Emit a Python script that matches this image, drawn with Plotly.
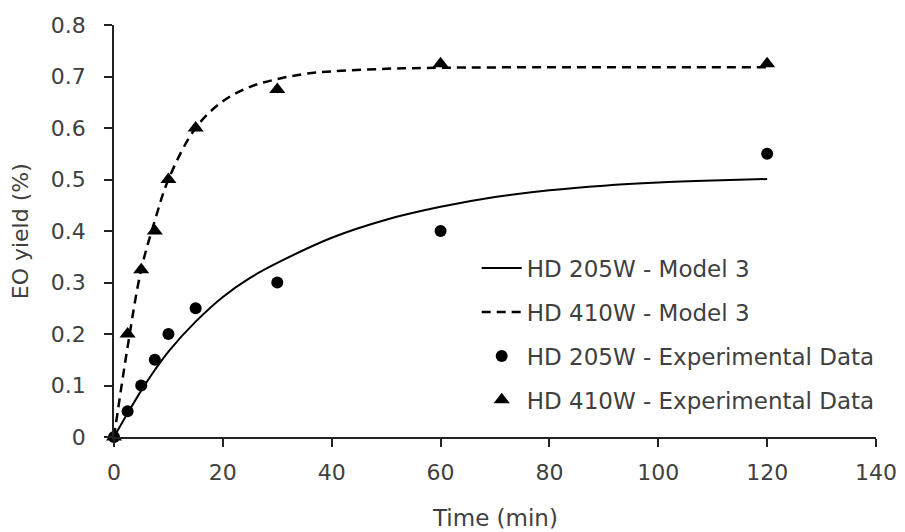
import plotly.graph_objects as go

# Experimental sampling times (min)
exp_time = [0, 2.5, 5, 7.5, 10, 15, 30, 60, 120]
# Measured EO yield (%)
yield_205w_exp = [0, 0.05, 0.10, 0.15, 0.20, 0.25, 0.30, 0.40, 0.55]
yield_410w_exp = [0, 0.20, 0.325, 0.40, 0.50, 0.60, 0.675, 0.725, 0.725]

# Model 3 predictions
model_time_205w = [0, 2.5, 5, 7.5, 10, 15, 20, 25, 30, 40, 50, 60, 70, 80, 90, 100, 110, 120]
model_205w = [0, 0.046, 0.090, 0.130, 0.166, 0.224, 0.272, 0.309, 0.338, 0.387,
              0.422, 0.447, 0.466, 0.479, 0.488, 0.494, 0.498, 0.501]
model_time_410w = [0, 2.5, 5, 7.5, 10, 15, 20, 25, 30, 35, 40, 50, 60, 80, 100, 120]
model_410w = [0, 0.175, 0.325, 0.42, 0.50, 0.60, 0.652, 0.680, 0.695, 0.705,
              0.710, 0.715, 0.717, 0.718, 0.718, 0.718]

x_ticks = [0, 20, 40, 60, 80, 100, 120, 140]
y_ticks = [0, 0.1, 0.2, 0.3, 0.4, 0.5, 0.6, 0.7, 0.8]
y_tick_text = ["0", "0.1", "0.2", "0.3", "0.4", "0.5", "0.6", "0.7", "0.8"]

FONT = "DejaVu Sans"
TEXT = "#404040"
INK = "#000000"

fig = go.Figure()
fig.add_trace(go.Scatter(
    x=model_time_205w, y=model_205w, mode="lines", name="HD 205W - Model 3",
    line=dict(color=INK, width=2, shape="spline"), legendgroup="a"))
fig.add_trace(go.Scatter(
    x=model_time_410w, y=model_410w, mode="lines", name="HD 410W - Model 3",
    line=dict(color=INK, width=2.5, dash="9px,6px", shape="spline"), legendgroup="b"))
fig.add_trace(go.Scatter(
    x=exp_time, y=yield_205w_exp, mode="markers", name="HD 205W - Experimental Data",
    marker=dict(symbol="circle", size=12, color=INK), cliponaxis=False, legendgroup="c"))
fig.add_trace(go.Scatter(
    x=exp_time, y=yield_410w_exp, mode="markers", name="HD 410W - Experimental Data",
    marker=dict(symbol="triangle-up", size=14, color=INK), cliponaxis=False, legendgroup="d"))

axis_common = dict(
    showline=True, linecolor="#222222", linewidth=1.5,
    ticks="outside", ticklen=8, tickwidth=1.5, tickcolor="#222222",
    showgrid=False, zeroline=False, automargin=False,
    tickfont=dict(family=FONT, size=22, color=TEXT),
)

fig.update_layout(
    width=905, height=532,
    margin=dict(l=114, r=29, t=25, b=95),
    paper_bgcolor="white", plot_bgcolor="white",
    font=dict(family=FONT, color=TEXT),
    xaxis=dict(range=[0, 140], tickvals=x_ticks, ticklabelstandoff=7, **axis_common),
    yaxis=dict(range=[0, 0.8], tickvals=y_ticks, ticktext=y_tick_text,
               ticklabelstandoff=14, **axis_common),
    legend=dict(x=0.476, y=0.462, xanchor="left", yanchor="top",
                font=dict(family=FONT, size=23, color=TEXT),
                traceorder="grouped", tracegroupgap=11,
                bgcolor="rgba(0,0,0,0)", itemwidth=40),
    showlegend=True,
    annotations=[
        dict(text="Time (min)", xref="paper", yref="paper", x=0.5, y=-0.197,
             xanchor="center", yanchor="middle", showarrow=False,
             font=dict(family=FONT, size=23, color=TEXT)),
        dict(text="EO yield (%)", xref="paper", yref="paper", x=-0.123, y=0.5,
             xanchor="center", yanchor="middle", showarrow=False, textangle=-90,
             font=dict(family=FONT, size=22, color=TEXT)),
    ],
)

fig.write_html("out.html")
